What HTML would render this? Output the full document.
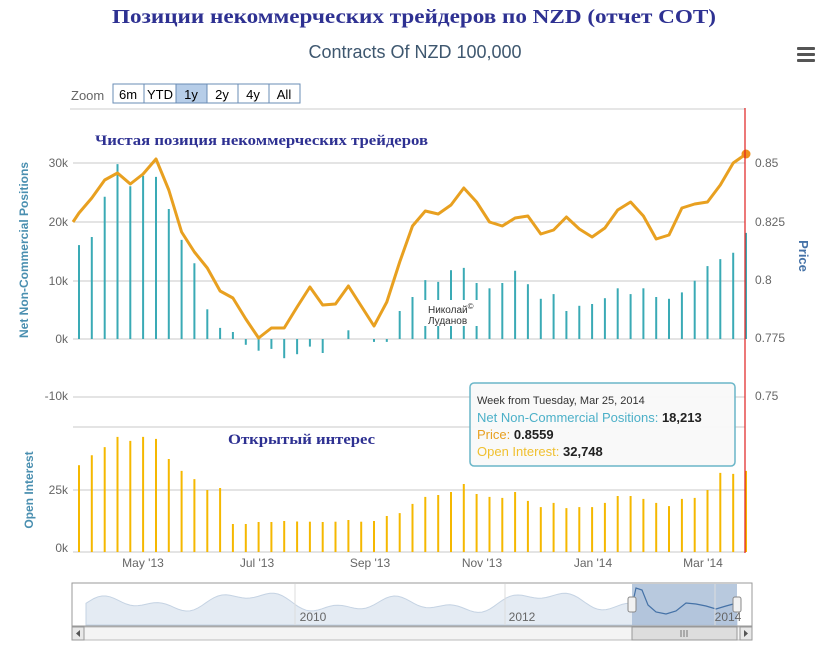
<!DOCTYPE html>
<html><head><meta charset="utf-8"><style>
body{margin:0;background:#fff;width:828px;height:662px;overflow:hidden}
svg{display:block;font-family:"Liberation Sans","DejaVu Sans",sans-serif}
</style></head><body>
<svg id="s" width="828" height="662" viewBox="0 0 828 662" xmlns="http://www.w3.org/2000/svg">
<text x="112" y="23" textLength="604" lengthAdjust="spacingAndGlyphs" font-family="Liberation Serif,serif" font-weight="bold" font-size="20" fill="#2e3192">Позиции некоммерческих трейдеров по NZD (отчет COT)</text>
<text x="415" y="58" text-anchor="middle" font-size="18" fill="#3e576f">Contracts Of NZD 100,000</text>
<g fill="#555"><rect x="797" y="47" width="18" height="3" rx="1"/><rect x="797" y="53" width="18" height="3" rx="1"/><rect x="797" y="59" width="18" height="3" rx="1"/></g>
<text x="71" y="100" font-size="13" fill="#666">Zoom</text>
<g font-size="13" fill="#000" text-anchor="middle">
<rect x="113" y="84" width="187" height="19" fill="#fff" stroke="#6a8cb5"/>
<rect x="176" y="84" width="31" height="19" fill="#b6cde8" stroke="#6a8cb5"/>
<line x1="144" y1="84" x2="144" y2="103" stroke="#6a8cb5"/><line x1="238" y1="84" x2="238" y2="103" stroke="#6a8cb5"/><line x1="269" y1="84" x2="269" y2="103" stroke="#6a8cb5"/>
<text x="128" y="99">6m</text><text x="160" y="99">YTD</text><text x="191" y="99">1y</text><text x="222" y="99">2y</text><text x="253" y="99">4y</text><text x="284" y="99">All</text>
</g>
<line x1="70" y1="109" x2="745" y2="109" stroke="#ccc"/>
<g stroke="#c8c8c8" stroke-width="1">
<line x1="73" y1="163" x2="745" y2="163"/><line x1="73" y1="222" x2="745" y2="222"/><line x1="73" y1="281" x2="745" y2="281"/><line x1="73" y1="339" x2="745" y2="339"/><line x1="73" y1="397" x2="745" y2="397"/>
<line x1="73" y1="427" x2="745" y2="427"/><line x1="73" y1="490" x2="745" y2="490"/><line x1="73" y1="552" x2="745" y2="552"/>
</g>
<g font-size="12" fill="#666" text-anchor="end">
<text x="68" y="167">30k</text><text x="68" y="226">20k</text><text x="68" y="285">10k</text><text x="68" y="343">0k</text><text x="68" y="400">-10k</text>
<text x="68" y="494">25k</text><text x="68" y="552">0k</text>
</g>
<g font-size="12" fill="#666">
<text x="755" y="167">0.85</text><text x="755" y="226">0.825</text><text x="755" y="284">0.8</text><text x="755" y="342">0.775</text><text x="755" y="400">0.75</text>
</g>
<text transform="translate(28,250) rotate(-90)" text-anchor="middle" font-size="12" font-weight="bold" fill="#4a8fb0">Net Non-Commercial Positions</text>
<text transform="translate(33,490) rotate(-90)" text-anchor="middle" font-size="12" font-weight="bold" fill="#4a8fb0">Open Interest</text>
<text transform="translate(799,256) rotate(90)" text-anchor="middle" font-size="13" font-weight="bold" fill="#4572a7">Price</text>
<g id="bars"></g>
<rect x="424" y="300" width="58" height="26" fill="#fff"/>
<text x="428" y="313" font-size="10" fill="#333">Николай<tspan font-size="8" dy="-4">©</tspan></text>
<text x="428" y="324" font-size="10" fill="#333">Луданов</text>
<path id="price" fill="none" stroke="#e8a020" stroke-width="3" stroke-linejoin="round"/>
<circle cx="746" cy="154" r="4.5" fill="#f0901a"/>
<line x1="745" y1="108" x2="745" y2="553" stroke="#e02020" stroke-width="1.2"/>
<text x="95" y="145" textLength="333" lengthAdjust="spacingAndGlyphs" font-family="Liberation Serif,serif" font-weight="bold" font-size="15" fill="#2e3192">Чистая позиция некоммерческих трейдеров</text>
<text x="228" y="444" textLength="147" lengthAdjust="spacingAndGlyphs" font-family="Liberation Serif,serif" font-weight="bold" font-size="15" fill="#2e3192">Открытый интерес</text>
<rect x="470" y="383" width="265" height="83" rx="4" fill="#f9f9f9" fill-opacity="0.95" stroke="#6ab6c8" stroke-width="1.5"/>
<text x="477" y="404" font-size="11" fill="#333">Week from Tuesday, Mar 25, 2014</text>
<text x="477" y="422" font-size="13" fill="#4cb0c8">Net Non-Commercial Positions: <tspan fill="#222" font-weight="bold">18,213</tspan></text>
<text x="477" y="439" font-size="13" fill="#e8a020">Price: <tspan fill="#222" font-weight="bold">0.8559</tspan></text>
<text x="477" y="456" font-size="13" fill="#f0c030">Open Interest: <tspan fill="#222" font-weight="bold">32,748</tspan></text>
<g font-size="12" fill="#666" text-anchor="middle">
<text x="143" y="567">May '13</text><text x="257" y="567">Jul '13</text><text x="370" y="567">Sep '13</text><text x="482" y="567">Nov '13</text><text x="593" y="567">Jan '14</text><text x="703" y="567">Mar '14</text>
</g>
<rect x="72" y="583" width="680" height="43" fill="#fff" stroke="#999"/>
<path id="nav" fill="#e4ebf3" stroke="#c5d3e3"/>
<rect x="632" y="584" width="105" height="41" fill="#a6bcd6" fill-opacity="0.8"/>
<path id="navsel" fill="none" stroke="#4572a7" stroke-width="1.2"/>
<line x1="295" y1="584" x2="295" y2="625" stroke="#ddd"/><line x1="505" y1="584" x2="505" y2="625" stroke="#ddd"/><line x1="715" y1="584" x2="715" y2="625" stroke="#ddd"/>
<g font-size="12" fill="#666" text-anchor="middle"><text x="313" y="621">2010</text><text x="522" y="621">2012</text><text x="728" y="621">2014</text></g>
<rect x="628" y="597" width="8" height="15" rx="2" fill="#f2f2f2" stroke="#888"/><rect x="733" y="597" width="8" height="15" rx="2" fill="#f2f2f2" stroke="#888"/>
<rect x="72" y="627" width="680" height="13" fill="#f4f4f4" stroke="#bbb"/>
<rect x="632" y="627" width="105" height="13" fill="#ddd" stroke="#999"/>
<rect x="72" y="627" width="12" height="13" fill="#e8e8e8" stroke="#999"/><rect x="740" y="627" width="12" height="13" fill="#e8e8e8" stroke="#999"/>
<path d="M80 630 L76 633.5 L80 637Z M744 630 L748 633.5 L744 637Z" fill="#555"/>
<path d="M681 630v7M684 630v7M687 630v7" stroke="#777"/>
</svg>
<script>
var net=[16.1,17.5,24.4,30,26.2,28,27.8,22.3,17,13,5.1,1.9,1.2,-1,-2,-1.7,-3.3,-2.6,-1.3,-2.4,0,1.5,0,-0.5,-0.5,4.8,7.2,10.1,9.8,11.8,12.2,9.6,8.7,9.6,11.7,9.4,6.9,7.7,4.8,5.7,6,7,8.7,7.7,8.7,7.2,6.9,8,10,12.5,13.7,14.8,18.2];
var oi=[35,39,42.3,46.4,44.8,46.4,45.6,37.5,32.7,29.4,25,25.8,11.3,11.3,12.1,12.1,12.5,12.3,12.2,12.1,12.2,12.9,12.2,12.5,14.5,15.7,19.4,22.2,23,24.2,27.4,23.4,22.2,21.8,24.2,20.6,18.1,19.8,17.7,18.1,18.1,19.8,22.6,22.6,21.4,19.8,18.5,21.4,21.8,25,31.9,31.5,32.7];
var py=[213,198,180,173,184,174,159,190,232,252,268,291,298,319,338,328,328,307,287,305,304,286,306,326,302,262,226,211,214,205,188,202,222,226,218,216,234,230,217,229,237,228,210,202,216,239,235,208,204,202,185,163,154];
var g=document.getElementById('bars'),h='';
function X(i){return 79+i*(667/52);}
for(var i=0;i<53;i++){var x=X(i).toFixed(1);
var y=339-net[i]*5.83;h+='<line x1="'+x+'" x2="'+x+'" y1="339" y2="'+y.toFixed(1)+'" stroke="#3aaab5" stroke-width="2"/>';
var y2=552-oi[i]*2.48;h+='<line x1="'+x+'" x2="'+x+'" y1="552" y2="'+y2.toFixed(1)+'" stroke="#f5b800" stroke-width="2"/>';}
g.innerHTML=h;
var d='M73 222';for(i=0;i<53;i++)d+=' L'+X(i).toFixed(1)+' '+py[i];
document.getElementById('price').setAttribute('d',d);
var n='M86 625',s='';
for(var x=86;x<=632;x+=4){var v=603+6*Math.sin(x/23)+4*Math.sin(x/9.3)+3*Math.sin(x/51);n+=' L'+x+' '+v.toFixed(1);}
var sel=[[632,606],[636,588],[642,590],[648,605],[656,612],[666,614],[676,611],[686,603],[696,604],[706,606],[716,609],[726,606],[737,603]];
sel.forEach(function(p){n+=' L'+p[0]+' '+p[1];s+=(s?' L':'M')+p[0]+' '+p[1];});
n+=' L737 625Z';
document.getElementById('nav').setAttribute('d',n);
document.getElementById('navsel').setAttribute('d',s);
</script>
</body></html>
